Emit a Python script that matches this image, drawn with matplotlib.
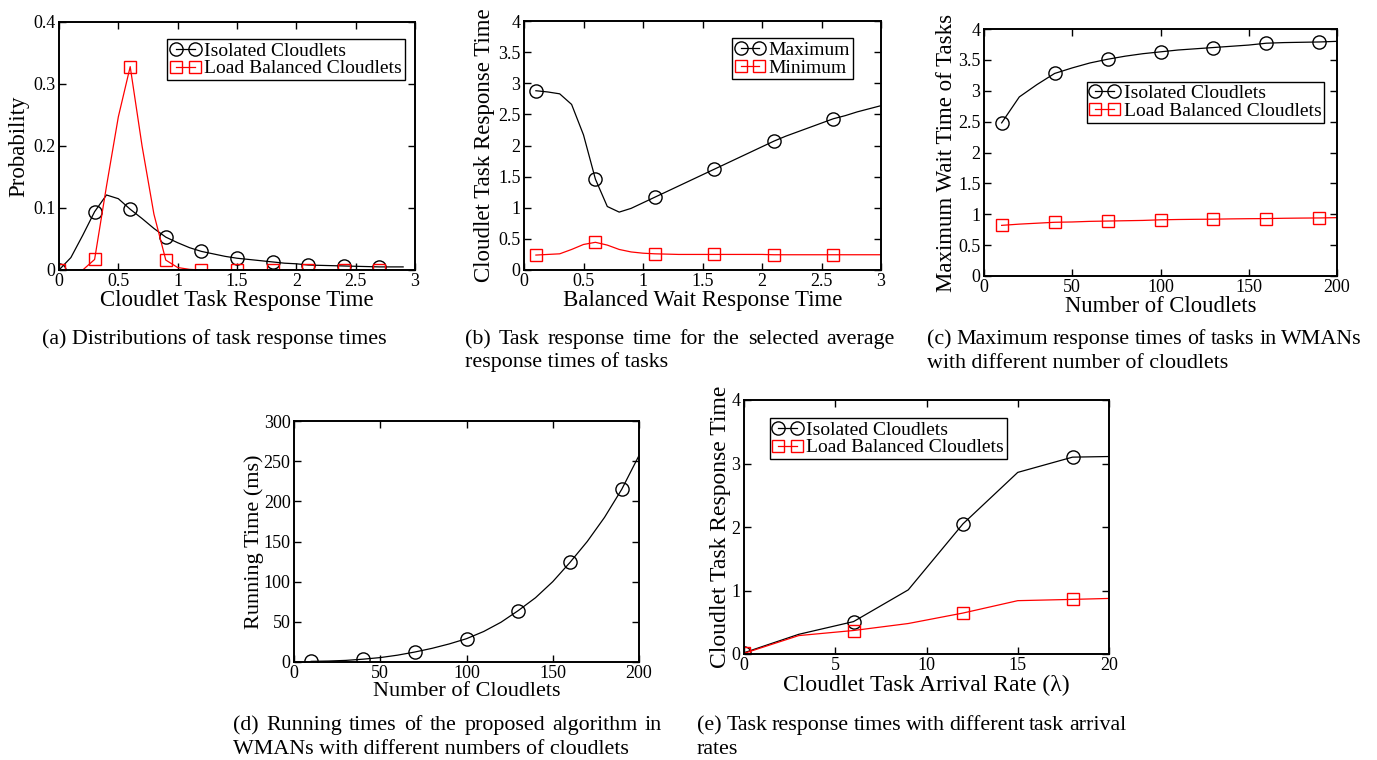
import numpy as np
import matplotlib.pyplot as plt

plt.rcParams['font.family'] = ['Liberation Serif', 'DejaVu Serif']

W, H = 1377, 760
RED = '#ff0000'

# (a) distributions of task response times
a_x = [0.0, 0.1, 0.2, 0.3, 0.4, 0.5, 0.6, 0.7, 0.8, 0.9, 1.0, 1.1, 1.2, 1.3, 1.4,
       1.5, 1.6, 1.7, 1.8, 1.9, 2.0, 2.1, 2.2, 2.3, 2.4, 2.5, 2.6, 2.7, 2.8, 2.9]
a_iso = [0.0, 0.02, 0.056, 0.094, 0.121, 0.115, 0.098, 0.083, 0.067, 0.053, 0.044, 0.036,
         0.030, 0.026, 0.022, 0.019, 0.017, 0.015, 0.013, 0.011, 0.010, 0.008, 0.0075, 0.007,
         0.0065, 0.006, 0.0055, 0.005, 0.005, 0.005]
a_lb = [0.0, 0.0, 0.0, 0.017, 0.135, 0.247, 0.328, 0.20, 0.09, 0.016, 0.004, 0.001, 0.0, 0.0,
        0.0, 0.0, 0.0, 0.0, 0.0, 0.0, 0.0, 0.0, 0.0, 0.0, 0.0, 0.0, 0.0, 0.0, 0.0, 0.0]

# (b) task response time vs balanced wait response time
b_x = [0.1, 0.2, 0.3, 0.4, 0.5, 0.6, 0.7, 0.8, 0.9, 1.0, 1.1, 1.2, 1.3, 1.4, 1.5,
       1.6, 1.7, 1.8, 1.9, 2.0, 2.1, 2.2, 2.3, 2.4, 2.5, 2.6, 2.7, 2.8, 2.9, 3.0]
b_max = [2.88, 2.86, 2.83, 2.66, 2.17, 1.46, 1.02, 0.93, 0.99, 1.08, 1.17, 1.26, 1.35, 1.44,
         1.53, 1.62, 1.71, 1.80, 1.89, 1.98, 2.07, 2.15, 2.22, 2.29, 2.36, 2.43, 2.48, 2.54,
         2.59, 2.64]
b_min = [0.24, 0.25, 0.26, 0.33, 0.41, 0.445, 0.40, 0.33, 0.29, 0.27, 0.26, 0.255, 0.25, 0.25,
         0.25, 0.25, 0.25, 0.25, 0.25, 0.25, 0.245, 0.245, 0.245, 0.245, 0.245, 0.245, 0.245,
         0.245, 0.245, 0.245]

# (c) maximum wait time vs number of cloudlets
c_x = [10, 20, 30, 40, 50, 60, 70, 80, 90, 100, 110, 120, 130, 140, 150, 160, 170, 180, 190, 200]
c_iso = [2.48, 2.90, 3.10, 3.28, 3.37, 3.45, 3.51, 3.56, 3.60, 3.63, 3.66, 3.68, 3.70, 3.72,
         3.74, 3.77, 3.78, 3.785, 3.79, 3.80]
c_lb = [0.82, 0.84, 0.855, 0.87, 0.875, 0.885, 0.89, 0.895, 0.90, 0.91, 0.915, 0.918, 0.92,
        0.925, 0.928, 0.93, 0.935, 0.938, 0.94, 0.945]

# (d) running time of the algorithm
d_x = [10, 20, 30, 40, 50, 60, 70, 80, 90, 100, 110, 120, 130, 140, 150, 160, 170, 180, 190, 200]
d_time = [0.8, 1.2, 2.0, 3.5, 5.5, 8.5, 12.4, 17, 22.5, 29, 38, 49.5, 64, 80, 100, 124, 150,
          180, 215, 257]

# (e) response time vs arrival rate
e_x = [0, 3, 6, 9, 12, 15, 18, 20]
e_iso = [0.02, 0.31, 0.51, 1.01, 2.05, 2.86, 3.10, 3.11]
e_lb = [0.01, 0.29, 0.37, 0.48, 0.645, 0.84, 0.86, 0.875]

lab_iso = 'Isolated Cloudlets'
lab_lb = 'Load Balanced Cloudlets'

fig = plt.figure(figsize=(W / 100, H / 100), dpi=100)


def make_ax(l, t, r, b):
    ax = fig.add_axes([l / W, 1 - b / H, (r - l) / W, (b - t) / H])
    for s in ax.spines.values():
        s.set_linewidth(1.4)
    ax.tick_params(direction='in', length=5, width=1.0, top=True, right=True,
                   labelsize=13, pad=2.5)
    return ax


def line(ax, x, y, col, mk, every, lab, ms):
    ax.plot(x, y, color=col, lw=0.9, marker=mk, markevery=every, ms=ms,
            mfc='none', mec=col, mew=1.0, label=lab)


def legend(ax, anchor):
    lg = ax.legend(loc='upper right', bbox_to_anchor=anchor, borderaxespad=0,
                   fontsize=14, numpoints=2, handlelength=1.55, handletextpad=0.2,
                   labelspacing=0.0, borderpad=0.15, fancybox=False, framealpha=1,
                   edgecolor='black')
    lg.get_frame().set_linewidth(1.0)


# (a)
ax = make_ax(59, 22, 415, 270)
line(ax, a_x, a_iso, 'black', 'o', 3, lab_iso, 9.5)
line(ax, a_x, a_lb, RED, 's', 3, lab_lb, 8)
ax.set_xlim(0, 3)
ax.set_ylim(0, 0.4)
ax.set_xticks([0, 0.5, 1, 1.5, 2, 2.5, 3], ['0', '0.5', '1', '1.5', '2', '2.5', '3'])
ax.set_yticks([0, 0.1, 0.2, 0.3, 0.4], ['0', '0.1', '0.2', '0.3', '0.4'])
ax.set_xlabel('Cloudlet Task Response Time', fontsize=16.5, labelpad=0)
ax.set_ylabel('Probability', fontsize=16.5, labelpad=3)
legend(ax, (0.972, 0.93))

# (b)
ax = make_ax(524, 21, 881, 270)
line(ax, b_x, b_max, 'black', 'o', 5, 'Maximum', 9.5)
line(ax, b_x, b_min, RED, 's', 5, 'Minimum', 8)
ax.set_xlim(0, 3)
ax.set_ylim(0, 4)
ax.set_xticks([0, 0.5, 1, 1.5, 2, 2.5, 3], ['0', '0.5', '1', '1.5', '2', '2.5', '3'])
ax.set_yticks([0, 0.5, 1, 1.5, 2, 2.5, 3, 3.5, 4],
              ['0', '0.5', '1', '1.5', '2', '2.5', '3', '3.5', '4'])
ax.set_xlabel('Balanced Wait Response Time', fontsize=16.5, labelpad=0)
ax.set_ylabel('Cloudlet Task Response Time', fontsize=16.5, labelpad=2)
legend(ax, (0.922, 0.93))

# (c)
ax = make_ax(984, 29, 1337, 276)
line(ax, c_x, c_iso, 'black', 'o', 3, lab_iso, 9.5)
line(ax, c_x, c_lb, RED, 's', 3, lab_lb, 8)
ax.set_xlim(0, 200)
ax.set_ylim(0, 4)
ax.set_xticks([0, 50, 100, 150, 200])
ax.set_yticks([0, 0.5, 1, 1.5, 2, 2.5, 3, 3.5, 4],
              ['0', '0.5', '1', '1.5', '2', '2.5', '3', '3.5', '4'])
ax.set_xlabel('Number of Cloudlets', fontsize=16.3, labelpad=0)
ax.set_ylabel('Maximum Wait Time of Tasks', fontsize=16.5, labelpad=0.5)
legend(ax, (0.964, 0.787))

# (d)
ax = make_ax(294, 421, 639, 662)
line(ax, d_x, d_time, 'black', 'o', 3, None, 9.5)
ax.set_xlim(0, 200)
ax.set_ylim(0, 300)
ax.set_xticks([0, 50, 100, 150, 200])
ax.set_yticks([0, 50, 100, 150, 200, 250, 300])
ax.set_xlabel('Number of Cloudlets', fontsize=16, labelpad=0)
ax.set_ylabel('Running Time (ms)', fontsize=16, labelpad=0)

# (e)
ax = make_ax(744, 400, 1109, 654)
line(ax, e_x, e_iso, 'black', 'o', 2, lab_iso, 9.5)
line(ax, e_x, e_lb, RED, 's', 2, lab_lb, 8)
ax.set_xlim(0, 20)
ax.set_ylim(0, 4)
ax.set_xticks([0, 5, 10, 15, 20])
ax.set_yticks([0, 1, 2, 3, 4])
ax.set_xlabel('Cloudlet Task Arrival Rate (λ)', fontsize=17, labelpad=0)
ax.set_ylabel('Cloudlet Task Response Time', fontsize=17, labelpad=0)
legend(ax, (0.721, 0.928))


# captions, first line justified like the paper
renderer = fig.canvas.get_renderer()


def caption(lines, x0, x1, base, size=15.8):
    for i, (txt, just) in enumerate(lines):
        y = 1 - (base + i * 23.5) / H
        if not just:
            fig.text(x0 / W, y, txt, fontsize=size, va='baseline')
            continue
        words = txt.split(' ')
        ts = [fig.text(0, y, w, fontsize=size, va='baseline') for w in words]
        ws = [t.get_window_extent(renderer).width for t in ts]
        gap = (x1 - x0 - sum(ws)) / (len(words) - 1)
        x = x0
        for t, w in zip(ts, ws):
            t.set_x(x / W)
            x += w + gap


caption([('(a) Distributions of task response times', False)], 42, 386, 344)
caption([('(b) Task response time for the selected average', True),
         ('response times of tasks', False)], 465, 895, 344)
caption([('(c) Maximum response times of tasks in WMANs', True),
         ('with different number of cloudlets', False)], 927, 1362, 344)
caption([('(d) Running times of the proposed algorithm in', True),
         ('WMANs with different numbers of cloudlets', False)], 233, 662, 730)
caption([('(e) Task response times with different task arrival', True),
         ('rates', False)], 697, 1126, 730)

fig.savefig('out.png', dpi=100)
